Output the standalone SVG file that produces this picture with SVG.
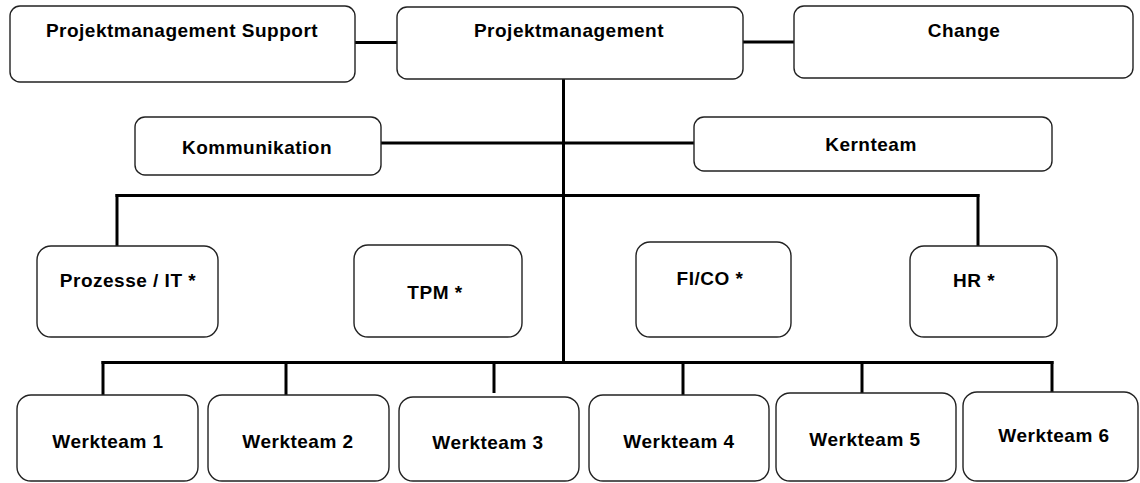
<svg xmlns="http://www.w3.org/2000/svg" width="1140" height="483" viewBox="0 0 1140 483">
<style>
.box{fill:#fff;stroke:#222;stroke-width:1.4}
.lbl{font-family:"Liberation Sans",Arial,sans-serif;font-weight:bold;font-size:19px;letter-spacing:0.5px;fill:#000;text-anchor:middle}
.con line{stroke:#000;stroke-width:3;stroke-linecap:butt}
</style>
<rect width="1140" height="483" fill="#fff"/>
<g class="con" id="connectors">
<line x1="355" y1="42.5" x2="397" y2="42.5"/>
<line x1="743" y1="42" x2="794" y2="42"/>
<line x1="563.5" y1="79" x2="563.5" y2="364"/>
<line x1="381" y1="143" x2="694" y2="143"/>
<line x1="115.5" y1="195.5" x2="979.5" y2="195.5"/>
<line x1="117" y1="194" x2="117" y2="246"/>
<line x1="978" y1="194" x2="978" y2="246"/>
<line x1="101.5" y1="362.5" x2="1053.5" y2="362.5"/>
<line x1="103" y1="361" x2="103" y2="395"/>
<line x1="286" y1="361" x2="286" y2="395"/>
<line x1="494" y1="361" x2="494" y2="393"/>
<line x1="683" y1="361" x2="683" y2="395"/>
<line x1="862" y1="361" x2="862" y2="393"/>
<line x1="1052" y1="361" x2="1052" y2="392"/>
</g>
<g id="pm-support"><rect class="box" x="10" y="6" width="345" height="76" rx="10"/><text class="lbl" x="182" y="37">Projektmanagement Support</text></g>
<g id="pm"><rect class="box" x="397" y="7" width="346" height="72" rx="10"/><text class="lbl" x="569" y="37">Projektmanagement</text></g>
<g id="change"><rect class="box" x="794" y="6" width="339" height="72" rx="10"/><text class="lbl" x="964" y="37">Change</text></g>
<g id="kommunikation"><rect class="box" x="135" y="117" width="246" height="58" rx="10"/><text class="lbl" x="257" y="154">Kommunikation</text></g>
<g id="kernteam"><rect class="box" x="694" y="117" width="358" height="54" rx="10"/><text class="lbl" x="871" y="151">Kernteam</text></g>
<g id="prozesse"><rect class="box" x="37" y="246" width="181" height="91" rx="14"/><text class="lbl" x="128" y="287">Prozesse / IT *</text></g>
<g id="tpm"><rect class="box" x="354" y="245" width="168" height="92" rx="14"/><text class="lbl" x="435" y="299">TPM *</text></g>
<g id="fico"><rect class="box" x="636" y="242" width="155" height="95" rx="14"/><text class="lbl" x="710" y="285">FI/CO *</text></g>
<g id="hr"><rect class="box" x="910" y="246" width="147" height="91" rx="14"/><text class="lbl" x="974" y="287">HR *</text></g>
<g id="wt1"><rect class="box" x="17" y="395" width="181" height="86" rx="14"/><text class="lbl" x="108" y="448">Werkteam 1</text></g>
<g id="wt2"><rect class="box" x="208" y="395" width="181" height="86" rx="14"/><text class="lbl" x="298" y="448">Werkteam 2</text></g>
<g id="wt3"><rect class="box" x="399" y="397" width="180" height="84" rx="14"/><text class="lbl" x="488" y="449">Werkteam 3</text></g>
<g id="wt4"><rect class="box" x="589" y="395" width="180" height="86" rx="14"/><text class="lbl" x="679" y="448">Werkteam 4</text></g>
<g id="wt5"><rect class="box" x="776" y="393" width="180" height="88" rx="14"/><text class="lbl" x="865" y="446">Werkteam 5</text></g>
<g id="wt6"><rect class="box" x="963" y="392" width="175" height="89" rx="14"/><text class="lbl" x="1054" y="442">Werkteam 6</text></g>
</svg>
